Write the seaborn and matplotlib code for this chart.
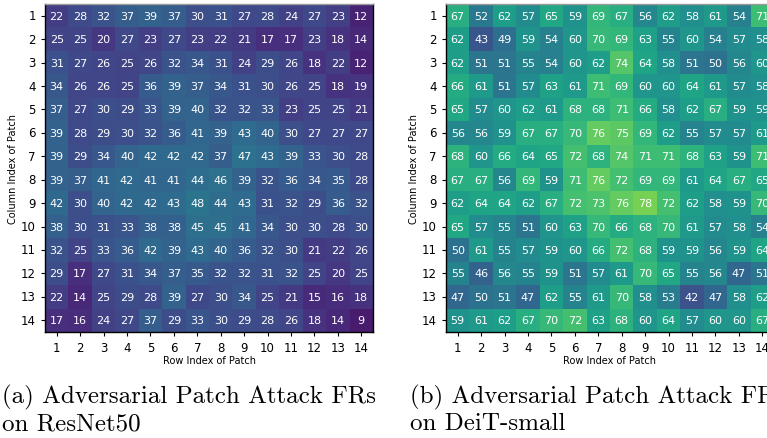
import numpy as np
import matplotlib
matplotlib.use("Agg")
import matplotlib.pyplot as plt
import seaborn as sns

patch_index = list(range(1, 15))

# Fooling rates (%) per patch position, rows = column index, cols = row index
resnet50_fr = [
    [22, 28, 32, 37, 39, 37, 30, 31, 27, 28, 24, 27, 23, 12],
    [25, 25, 20, 27, 23, 27, 23, 22, 21, 17, 17, 23, 18, 14],
    [31, 27, 26, 25, 26, 32, 34, 31, 24, 29, 26, 18, 22, 12],
    [34, 26, 26, 25, 36, 39, 37, 34, 31, 30, 26, 25, 18, 19],
    [37, 27, 30, 29, 33, 39, 40, 32, 32, 33, 23, 25, 25, 21],
    [39, 28, 29, 30, 32, 36, 41, 39, 43, 40, 30, 27, 27, 27],
    [39, 29, 34, 40, 42, 42, 42, 37, 47, 43, 39, 33, 30, 28],
    [39, 37, 41, 42, 41, 41, 44, 46, 39, 32, 36, 34, 35, 28],
    [42, 30, 40, 42, 42, 43, 48, 44, 43, 31, 32, 29, 36, 32],
    [38, 30, 31, 33, 38, 38, 45, 45, 41, 34, 30, 30, 28, 30],
    [32, 25, 33, 36, 42, 39, 43, 40, 36, 32, 30, 21, 22, 26],
    [29, 17, 27, 31, 34, 37, 35, 32, 32, 31, 32, 25, 20, 25],
    [22, 14, 25, 29, 28, 39, 27, 30, 34, 25, 21, 15, 16, 18],
    [17, 16, 24, 27, 37, 29, 33, 30, 29, 28, 26, 18, 14, 9],
]

deit_small_fr = [
    [67, 52, 62, 57, 65, 59, 69, 67, 56, 62, 58, 61, 54, 71],
    [62, 43, 49, 59, 54, 60, 70, 69, 63, 55, 60, 54, 57, 58],
    [62, 51, 51, 55, 54, 60, 62, 74, 64, 58, 51, 50, 56, 60],
    [66, 61, 51, 57, 63, 61, 71, 69, 60, 60, 64, 61, 57, 58],
    [65, 57, 60, 62, 61, 68, 68, 71, 66, 58, 62, 67, 59, 59],
    [56, 56, 59, 67, 67, 70, 76, 75, 69, 62, 55, 57, 57, 61],
    [68, 60, 66, 64, 65, 72, 68, 74, 71, 71, 68, 63, 59, 71],
    [67, 67, 56, 69, 59, 71, 76, 72, 69, 69, 61, 64, 67, 65],
    [62, 64, 64, 62, 67, 72, 73, 76, 78, 72, 62, 58, 59, 70],
    [65, 57, 55, 51, 60, 63, 70, 66, 68, 70, 61, 57, 58, 54],
    [50, 61, 55, 57, 59, 60, 66, 72, 68, 59, 59, 56, 59, 64],
    [55, 46, 56, 55, 59, 51, 57, 61, 70, 65, 55, 56, 47, 51],
    [47, 50, 51, 47, 62, 55, 61, 70, 58, 53, 42, 47, 58, 62],
    [59, 61, 62, 67, 70, 72, 63, 68, 60, 64, 57, 60, 60, 67],
]

captions = [
    "(a) Adversarial Patch Attack FRs\non ResNet50",
    "(b) Adversarial Patch Attack FRs\non DeiT-small",
]

fig = plt.figure(figsize=(7.67, 4.39), dpi=100)

panels = [
    (resnet50_fr, 0.0587, 0, 125, 0.002),
    (deit_small_fr, 0.5815, 25, 92, 0.535),
]

for (data, left, vmin, vmax, cap_x), caption in zip(panels, captions):
    ax = fig.add_axes([left, 0.2415, 0.4276, 0.747])
    sns.heatmap(
        np.array(data), ax=ax, cmap="viridis", vmin=vmin, vmax=vmax,
        annot=True, fmt="d", cbar=False,
        annot_kws={"color": "white", "fontsize": 8},
        xticklabels=patch_index, yticklabels=patch_index,
    )
    ax.tick_params(axis="both", labelsize=8.5, length=3, width=0.8)
    ax.set_yticklabels(patch_index, rotation=0)
    ax.set_xticklabels(patch_index, rotation=0)
    ax.set_xlabel("Row Index of Patch", fontsize=7, labelpad=1)
    ax.set_ylabel("Column Index of Patch", fontsize=7, labelpad=2)
    for side, sp in ax.spines.items():
        sp.set_visible(True)
        sp.set_color("black")
        sp.set_linewidth(1.0)
    ax.spines["top"].set_color("#999999")
    fig.text(cap_x, 0.124, caption, fontsize=18, family="cmr10",
             ha="left", va="top", linespacing=1.2)

fig.savefig("out.png", dpi=100)
